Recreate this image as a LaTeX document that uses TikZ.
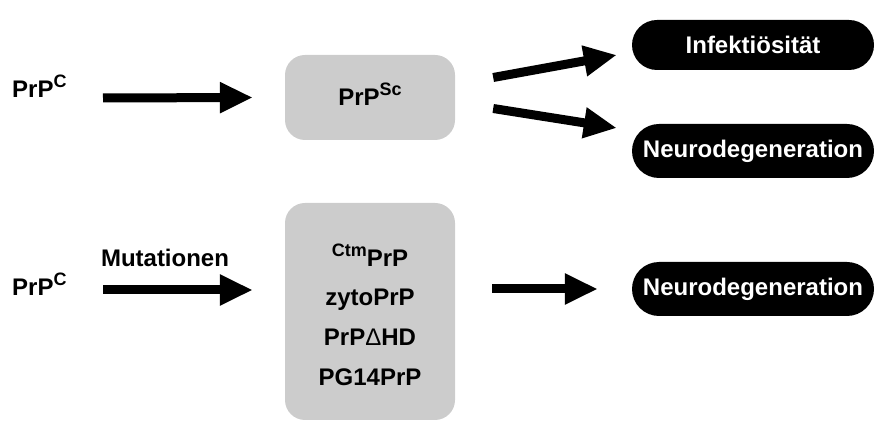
\documentclass[tikz,border=0pt]{standalone}
\usepackage{fontspec}
\setmainfont{Liberation Sans}
\usetikzlibrary{arrows.meta}
\newcommand{\mysup}[1]{\raisebox{0.45em}{\fontsize{18}{18}\selectfont #1}}
\tikzset{
  lbl/.style={font=\fontsize{24}{28}\selectfont\bfseries, inner sep=0pt},
  graybox/.style={fill=gray!40, draw=none, rounded corners=20pt},
  blackbox/.style={fill=black, text=white, rounded corners=27pt, minimum width=242pt, minimum height=54pt, inner sep=0pt, font=\fontsize{24}{28}\selectfont\bfseries},
  bigarrow/.style={line width=9pt, -{Triangle[length=33pt,width=29pt]}},
}
\begin{document}
\begin{tikzpicture}[x=1pt,y=-1pt]
\useasboundingbox (0,0) rectangle (876,427);
% top row
\node[lbl, anchor=base west] (prpc1) at (12,98) {PrP\mysup{C}};
\node[graybox, minimum width=170pt, minimum height=85pt] (sc) at (370,97.5) {};
\node[lbl, anchor=base] (sctext) at (370,106) {PrP\mysup{Sc}};
\node[blackbox, minimum height=50pt, rounded corners=25pt] (inf) at (753,45) {Infektiösität};
\node[blackbox] (neu1) at (753,151) {Neurodegeneration};
\coordinate (a1s) at (103,98);
\draw[bigarrow] (a1s) -- ([xshift=-32pt]sc.west);
\draw[bigarrow] ([xshift=38pt,yshift=20pt]sc.east) -- ([xshift=-15pt,yshift=-10pt]inf.west);
\draw[bigarrow] ([xshift=38pt,yshift=-11pt]sc.east) -- ([xshift=-15pt,yshift=23pt]neu1.west);
% bottom row
\node[lbl, anchor=base west] (prpc2) at (12,296) {PrP\mysup{C}};
\node[graybox, minimum width=170pt, minimum height=217pt] (mut) at (370,311.5) {};
\node[lbl, anchor=base] (ctm) at (370,267) {\mysup{Ctm}PrP};
\node[lbl, anchor=base] (zyto) at (370,306) {zytoPrP};
\node[lbl, anchor=base] (hd) at (370,346) {PrP{\mdseries Δ}HD};
\node[lbl, anchor=base] (pg) at (370,386) {PG14PrP};
\node[blackbox] (neu2) at (753,289) {Neurodegeneration};
\coordinate (a2s) at (103,290);
\draw[bigarrow] (a2s) -- ([xshift=-32pt]mut.west |- a2s);
\node[lbl, anchor=base] (mutlbl) at (165,267) {Mutationen};
\draw[bigarrow] ([xshift=37pt]mut.east |- neu2.west) -- ([xshift=-34pt]neu2.west);
\end{tikzpicture}
\end{document}
